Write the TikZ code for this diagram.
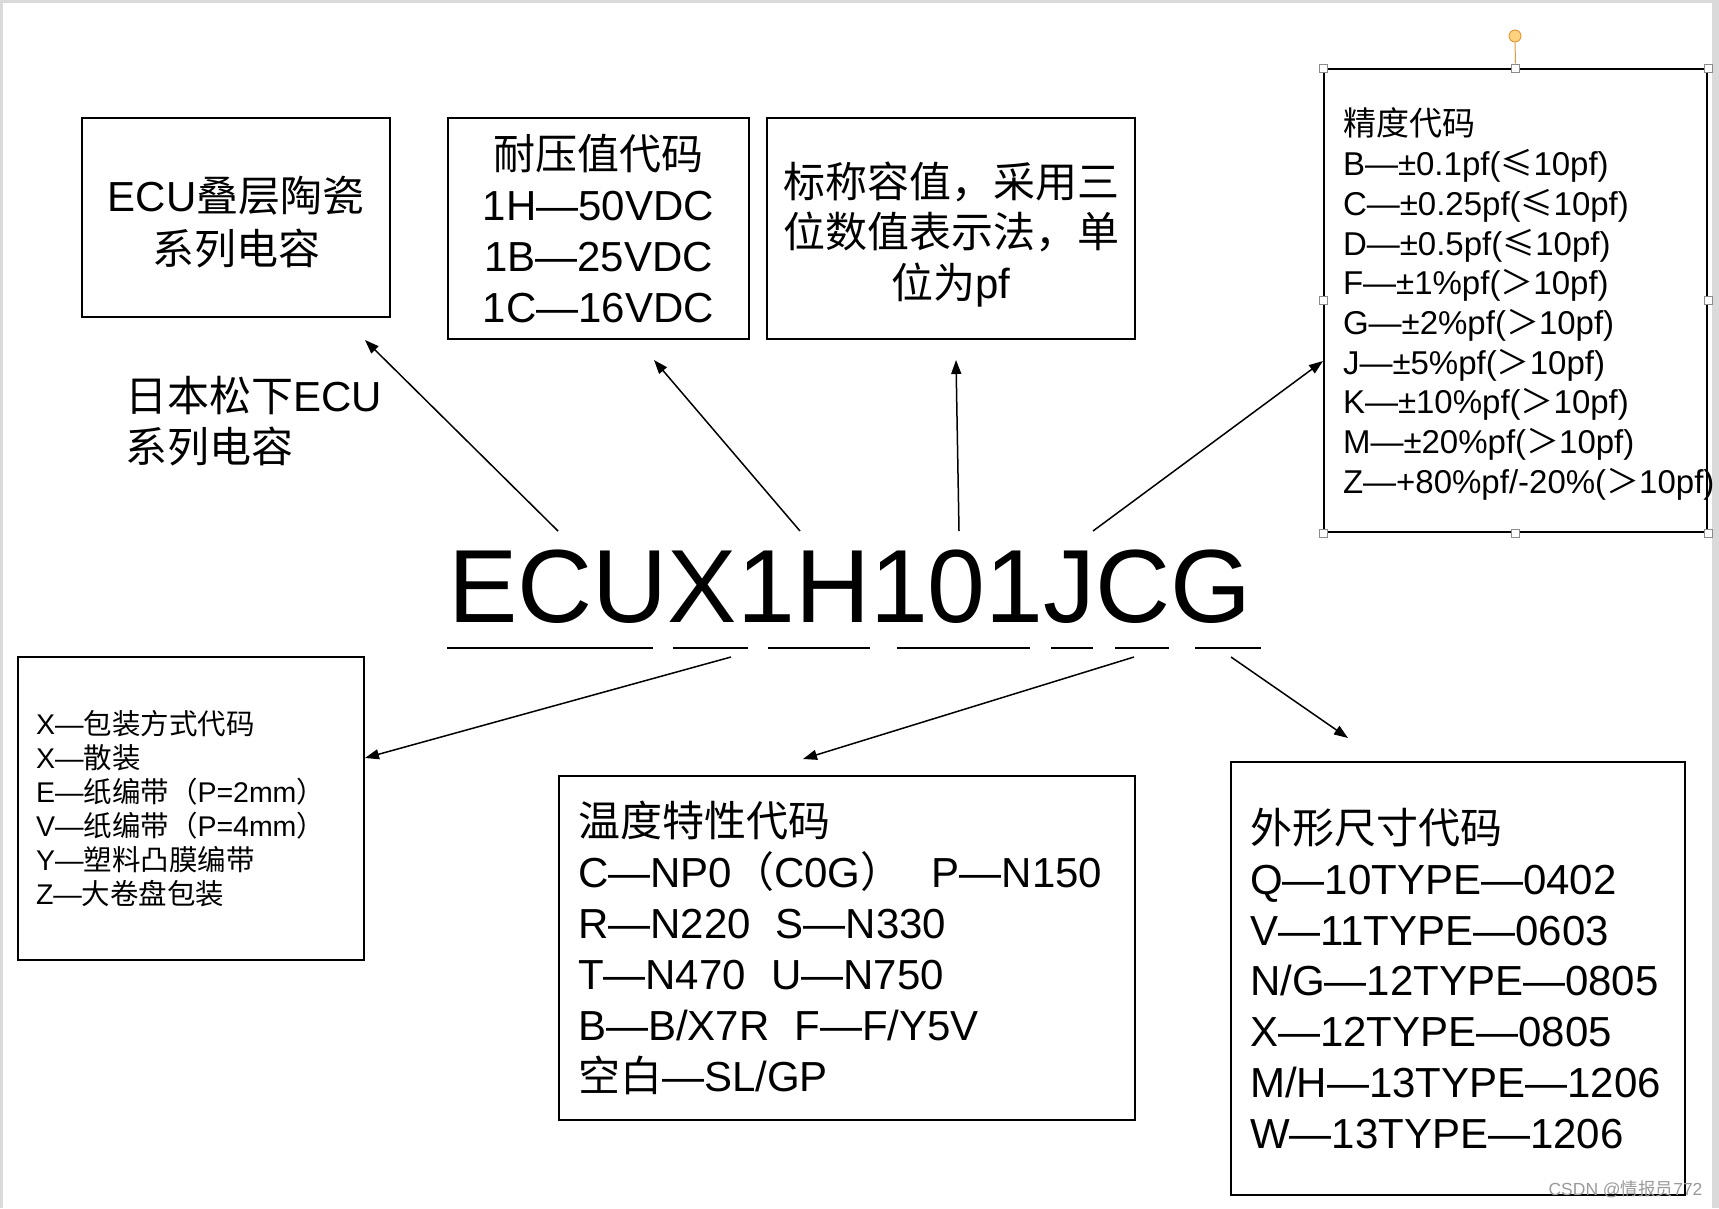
\documentclass[tikz,border=0pt]{standalone}
\usepackage{fontspec}
\setmainfont{Liberation Sans}
\newfontfamily\cjk{Noto Sans CJK SC}
\usetikzlibrary{arrows.meta}
\definecolor{pagegray}{HTML}{DADADA}
\definecolor{handlegray}{HTML}{8C8C8C}
\definecolor{knob}{HTML}{FFD27F}
\definecolor{knobline}{HTML}{E39A3F}
\definecolor{markgray}{HTML}{9A9A9A}
\newcommand{\zh}[1]{{\cjk #1}}
\newcommand{\px}[2]{\fontsize{#1}{#2}\selectfont}

\begin{document}
\begin{tikzpicture}[x=1pt,y=-1pt,
    box/.style={draw,line width=2pt,inner sep=0pt},
    arr/.style={-{Triangle[length=14pt,width=10pt]},line width=1.5pt},
    uline/.style={line width=2pt},
    handle/.style={draw=handlegray,fill=white,line width=1pt,minimum size=8pt,inner sep=0pt}]
  \useasboundingbox (0,0) rectangle (1719,1208);
  \fill[pagegray] (0,0) rectangle (1719,1208);
  \fill[white] (3,3) rectangle (1712,1208);

  % top row
  \node[box,minimum width=308pt,minimum height=199pt,align=center,font=\px{42}{53}]
    (series) at (236,217.5) {\rule{0pt}{45pt}ECU\zh{叠层陶瓷}\\\zh{系列电容}};
  \node[box,minimum width=301pt,minimum height=221pt,align=center,font=\px{42}{51}]
    (volt) at (598.5,228.5) {\zh{耐压值代码}\\1H—50VDC\\1B—25VDC\\1C—16VDC};
  \node[box,minimum width=368pt,minimum height=221pt,align=center,font=\px{42}{50.5}]
    (cap) at (951,228.5) {\rule{0pt}{47pt}\zh{标称容值，采用三}\\\zh{位数值表示法，单}\\\zh{位为}pf};
  \node[box,text width=345pt,inner xsep=19pt,minimum height=463pt,align=left,font=\px{33}{39.7}]
    (prec) at (1515.5,300.5) {\rule{0pt}{35pt}\zh{精度代码}\\
     B—±0.1pf(\zh{≤}10pf)\\C—±0.25pf(\zh{≤}10pf)\\D—±0.5pf(\zh{≤}10pf)\\
     F—±1\%pf(\zh{＞}10pf)\\G—±2\%pf(\zh{＞}10pf)\\J—±5\%pf(\zh{＞}10pf)\\
     K—±10\%pf(\zh{＞}10pf)\\M—±20\%pf(\zh{＞}10pf)\\\mbox{Z—+80\%pf/-20\%(\zh{＞}10pf)}};

  % selection handles
  \foreach \p [count=\i] in {north west,north,north east,east,south east,south,south west,west}
    \node[handle] (hdl\i) at (prec.\p) {};
  \node[circle,draw=knobline,fill=knob,line width=1pt,minimum size=12pt,inner sep=0pt] (rot) at (1515,36) {};
  \draw[knobline,line width=1pt] (rot.south) -- (hdl2.north);

  \node[anchor=west,align=left,font=\px{42}{51}] (maker) at (122,421) {\zh{日本松下}ECU\\\zh{系列电容}};

  % part number
  \node[anchor=base,font=\px{104}{110}] (code) at (850,622) {ECUX1H101JCG};
  \foreach \a/\b in {447/653,673/748,768/870,897/1030,1051/1093,1115/1169,1195/1261}
    \draw[uline] (\a,648) -- (\b,648);

  % bottom row
  \node[box,text width=310pt,inner xsep=18pt,minimum height=303pt,align=left,font=\px{28.5}{34}]
    (pack) at (191,808.5) {X—\zh{包装方式代码}\\X—\zh{散装}\\E—\zh{纸编带（}P=2mm\zh{）}\\
     V—\zh{纸编带（}P=4mm\zh{）}\\Y—\zh{塑料凸膜编带}\\Z—\zh{大卷盘包装}};
  \node[box,text width=538pt,inner xsep=19pt,minimum height=344pt,align=left,font=\px{42}{51}]
    (temp) at (847,948) {\zh{温度特性代码}\\C—NP0\zh{（}C0G\zh{）}\hspace{.7em}P—N150\\
     R—N220\hspace{.6em}S—N330\\T—N470\hspace{.6em}U—N750\\B—B/X7R\hspace{.6em}F—F/Y5V\\
     \zh{空白}—SL/GP};
  \node[box,text width=416pt,inner xsep=19pt,minimum height=433pt,align=left,font=\px{42}{50.8}]
    (size) at (1458,978.5) {\zh{外形尺寸代码}\\Q—10TYPE—0402\\V—11TYPE—0603\\N/G—12TYPE—0805\\
     X—12TYPE—0805\\M/H—13TYPE—1206\\W—13TYPE—1206};

  \node[anchor=base east,text=markgray,font=\px{17.5}{20}] (mark) at (1706,1195) {CSDN @\zh{情报员}772};

  % arrows
  \foreach \sx/\sy/\ex/\ey [count=\i] in {558/531/365/340,800/531/654/360,959/531/956/360,
      1093/531/1323/361,731/657/365/758,1134/657/803/759,1231/657/1348/738} {
    \coordinate (s\i) at (\sx,\sy);
    \coordinate (e\i) at (\ex,\ey);
    \draw[arr] (s\i) -- (e\i);
  }
\end{tikzpicture}
\end{document}
